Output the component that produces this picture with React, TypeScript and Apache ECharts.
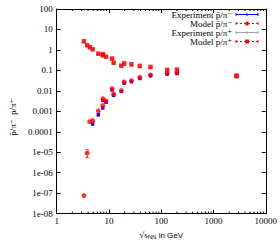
import React, { useEffect, useRef } from "react";
import * as echarts from "echarts";

// sqrt(s_NN) energies (GeV)
const energies = [3.32, 3.84, 4.29, 4.88, 6.27, 7.62, 7.7, 8.77, 11.5, 12.3, 17.3, 19.6, 27, 39, 62.4, 130, 200, 2760];

// p/pi+ (upper branch)
const modelPPip = [2.65, 1.7, 1.36, 1.08, 0.66, 0.55, 0.62, 0.47, 0.38, 0.24, 0.17, 0.22, 0.2, 0.166, 0.148, 0.106, 0.11, 0.054];
const expPPip = [2.5, 1.6, 1.3, 1.02, 0.63, 0.53, 0.59, 0.45, 0.35, 0.22, 0.16, 0.2, 0.18, 0.15, 0.135, 0.1, 0.104, 0.05];
const expPPipErr = [0.2, 0.12, 0.1, 0.08, 0.05, 0.04, 0.05, 0.04, 0.03, 0.02, 0.012, 0.016, 0.014, 0.012, 0.011, 0.008, 0.008, 0.004];

// pbar/pi- (lower branch)
const modelPbarPim = [7.6e-8, 9e-6, 3.1e-4, 3.5e-4, 1.05e-3, 1.9e-3, 4.1e-3, 3.2e-3, 0.0126, 0.0069, 0.0103, 0.027, 0.031, 0.045, 0.06, 0.073, 0.078, 0.054];
const modelPbarPimLow = [null, 5.4e-6, null, null, null, null, null, null, null, null, null, null, null, null, null, null, null, null];
const modelPbarPimHigh = [null, 1.32e-5, null, null, null, null, null, null, null, null, null, null, null, null, null, null, null, null];
const expPbarPim = [null, null, null, 2.5e-4, 6.8e-4, 1.5e-3, 3.4e-3, 2.8e-3, 0.011, 0.006, 0.0093, 0.024, 0.028, 0.04, 0.054, 0.066, 0.07, 0.05];
const expPbarPimErr = [null, null, null, 0.4e-4, 0.8e-4, 0.2e-3, 0.4e-3, 0.3e-3, 0.001, 0.0007, 0.001, 0.002, 0.002, 0.003, 0.004, 0.005, 0.005, 0.004];

const yTickLabels = ["1e-08", "1e-07", "1e-06", "1e-05", "0.0001", "0.001", "0.01", "0.1", "1", "10", "100"];
const xTickLabels = ["1", "10", "100", "1000", "10000"];
const minorMultipliers = [2, 3, 4, 5, 6, 7, 8, 9];
const minorDecades = [1, 10, 100, 1000];

const legendNames = ["Experiment p\u0304/\u03c0\u207b", "Model p\u0304/\u03c0\u207b", "Experiment p/\u03c0\u207a", "Model p/\u03c0\u207a"];

const RED = "#ff0000";
const BLUE = "#0000ff";
const GRAY = "#a0a0a0";
const SERIF = '"Liberation Serif", "DejaVu Serif", serif';
const SANS = '"Liberation Sans", Arial, sans-serif';

function errorBarSeries(name: string, data: any[], color: string, dashed: boolean) {
  return {
    type: "custom",
    name,
    silent: true,
    xAxisIndex: 0,
    yAxisIndex: 0,
    encode: { x: 0, y: [1, 2] },
    data,
    renderItem: (params: any, api: any) => {
      const x = api.value(0);
      const lo = api.coord([x, api.value(1)]);
      const hi = api.coord([x, api.value(2)]);
      const style = { stroke: color, lineWidth: 1, lineDash: dashed ? [2, 2] : null };
      return {
        type: "group",
        children: [
          { type: "line", shape: { x1: lo[0], y1: lo[1], x2: hi[0], y2: hi[1] }, style },
          { type: "line", shape: { x1: lo[0] - 1.5, y1: lo[1], x2: lo[0] + 1.5, y2: lo[1] }, style: { stroke: color, lineWidth: 1 } },
          { type: "line", shape: { x1: hi[0] - 1.5, y1: hi[1], x2: hi[0] + 1.5, y2: hi[1] }, style: { stroke: color, lineWidth: 1 } },
        ],
      };
    },
    z: 2,
  };
}

export default function App() {
  const ref = useRef<HTMLDivElement>(null);
  useEffect(() => {
    document.body.style.margin = "0";
    const chart = echarts.init(ref.current!, undefined, { renderer: "svg" });

    const expPbarPimBars = energies
      .map((e, i) => (expPbarPim[i] != null ? [e, (expPbarPim[i] as number) - (expPbarPimErr[i] as number), (expPbarPim[i] as number) + (expPbarPimErr[i] as number)] : null))
      .filter((d) => d);
    const expPPipBars = energies.map((e, i) => [e, expPPip[i] - expPPipErr[i], expPPip[i] + expPPipErr[i]]);
    const modelPbarPimBars = energies
      .map((e, i) => (modelPbarPimLow[i] != null ? [e, modelPbarPimLow[i], modelPbarPimHigh[i]] : null))
      .filter((d) => d);

    const minorTicks: number[][] = [];
    minorDecades.forEach((d) => minorMultipliers.forEach((m) => minorTicks.push([m * d, 1])));

    const axisLine = { show: true, lineStyle: { color: "#000", width: 1 } };
    const axisTick = { show: true, inside: true, length: 4, lineStyle: { color: "#000", width: 1 } };
    const labelStyle = { fontFamily: SERIF, fontSize: 9, color: "#000" };

    const legendRows = [14.5, 23.5, 32.5, 41.5];
    const lx1 = 236, lx2 = 258, lxm = 247;
    const legendColors = [BLUE, RED, GRAY, RED];
    const legendDash = [false, true, false, true];
    const graphics: any[] = [];
    legendRows.forEach((y, i) => {
      graphics.push({
        type: "text",
        style: { text: legendNames[i], x: 232, y, align: "right", verticalAlign: "middle", fontFamily: SERIF, fontSize: 9, lineHeight: 9, fill: "#000" },
      });
      const c = legendColors[i];
      graphics.push({ type: "line", shape: { x1: lx1, y1: y, x2: lx2, y2: y }, style: { stroke: c, lineWidth: 1, lineDash: legendDash[i] ? [2, 2] : null } });
      graphics.push({ type: "line", shape: { x1: lx1, y1: y - 1.5, x2: lx1, y2: y + 1.5 }, style: { stroke: c, lineWidth: 1 } });
      graphics.push({ type: "line", shape: { x1: lx2, y1: y - 1.5, x2: lx2, y2: y + 1.5 }, style: { stroke: c, lineWidth: 1 } });
      if (i === 1) graphics.push({ type: "circle", shape: { cx: lxm, cy: y, r: 2 }, style: { fill: c } });
      else if (i === 3) graphics.push({ type: "rect", shape: { x: lxm - 2, y: y - 2, width: 4, height: 4 }, style: { fill: c } });
      else graphics.push({ type: "line", shape: { x1: lxm, y1: y - 1.5, x2: lxm, y2: y + 1.5 }, style: { stroke: c, lineWidth: 1 } });
    });

    const logX = { type: "log", logBase: 10, min: 1, max: 10000 };
    const logY = { type: "log", logBase: 10, min: 1e-8, max: 100, interval: 1 };

    chart.setOption({
      animation: false,
      backgroundColor: "#fff",
      grid: { left: 49, right: 14, top: 9, bottom: 31, containLabel: false },
      xAxis: [
        {
          ...logX,
          position: "bottom",
          axisLine,
          axisTick,
          splitLine: { show: false },
          axisLabel: {
            ...labelStyle,
            margin: 3,
            formatter: (v: number) => xTickLabels[Math.round(Math.log10(v))],
          },
          name: "{r|\u221as}{sub|NN}{t| in GeV}",
          nameLocation: "middle",
          nameGap: 10,
          nameTextStyle: {
            rich: {
              r: { fontFamily: SERIF, fontSize: 9, color: "#000" },
              sub: { fontFamily: SANS, fontSize: 6, color: "#000", verticalAlign: "bottom", padding: [4, 0, 0, 0] },
              t: { fontFamily: SANS, fontSize: 8, color: "#000" },
            },
          },
        },
        {
          ...logX,
          position: "top",
          axisLine,
          axisTick,
          splitLine: { show: false },
          axisLabel: { show: false },
        },
      ],
      yAxis: [
        {
          ...logY,
          position: "left",
          axisLine,
          axisTick,
          splitLine: { show: false },
          axisLabel: {
            ...labelStyle,
            margin: 4,
            formatter: (v: number) => yTickLabels[Math.round(Math.log10(v)) + 8],
          },
          name: "p\u0304/\u03c0\u207b  p/\u03c0\u207a",
          nameLocation: "middle",
          nameRotate: 90,
          nameGap: 33,
          nameTextStyle: { fontFamily: SERIF, fontSize: 9, color: "#000", padding: [0, 12, 0, 0] },
        },
        {
          ...logY,
          position: "right",
          axisLine,
          axisTick,
          splitLine: { show: false },
          axisLabel: { show: false },
        },
      ],
      graphic: graphics,
      series: [
        {
          type: "custom",
          name: "minorTicks",
          silent: true,
          xAxisIndex: 0,
          yAxisIndex: 0,
          data: minorTicks,
          renderItem: (params: any, api: any) => {
            const x = api.value(0);
            const b = api.coord([x, 1e-8]);
            const t = api.coord([x, 100]);
            return {
              type: "group",
              children: [
                { type: "line", shape: { x1: b[0], y1: b[1], x2: b[0], y2: b[1] - 2 }, style: { stroke: "#000", lineWidth: 1 } },
                { type: "line", shape: { x1: t[0], y1: t[1], x2: t[0], y2: t[1] + 2 }, style: { stroke: "#000", lineWidth: 1 } },
              ],
            };
          },
        },
        errorBarSeries(legendNames[0] + " err", expPbarPimBars, BLUE, false),
        {
          type: "scatter",
          name: legendNames[0],
          xAxisIndex: 0,
          yAxisIndex: 0,
          symbol: "rect",
          symbolSize: 3.5,
          itemStyle: { color: BLUE },
          data: energies.map((e, i) => [e, expPbarPim[i]]).filter((d) => d[1] != null),
          z: 3,
        },
        errorBarSeries(legendNames[1] + " err", modelPbarPimBars, RED, true),
        {
          type: "scatter",
          name: legendNames[1],
          xAxisIndex: 0,
          yAxisIndex: 0,
          symbol: "circle",
          symbolSize: 5,
          itemStyle: { color: RED },
          data: energies.map((e, i) => [e, modelPbarPim[i]]),
          z: 4,
        },
        errorBarSeries(legendNames[2] + " err", expPPipBars, GRAY, false),
        {
          type: "scatter",
          name: legendNames[2],
          xAxisIndex: 0,
          yAxisIndex: 0,
          symbol: "rect",
          symbolSize: 3.5,
          itemStyle: { color: GRAY },
          data: energies.map((e, i) => [e, expPPip[i]]),
          z: 5,
        },
        {
          type: "scatter",
          name: legendNames[3],
          xAxisIndex: 0,
          yAxisIndex: 0,
          symbol: "rect",
          symbolSize: 4.5,
          itemStyle: { color: RED },
          data: energies.map((e, i) => [e, modelPPip[i]]),
          z: 6,
        },
      ],
    });
    return () => chart.dispose();
  }, []);
  return <div ref={ref} style={{ width: 280, height: 245 }} />;
}
